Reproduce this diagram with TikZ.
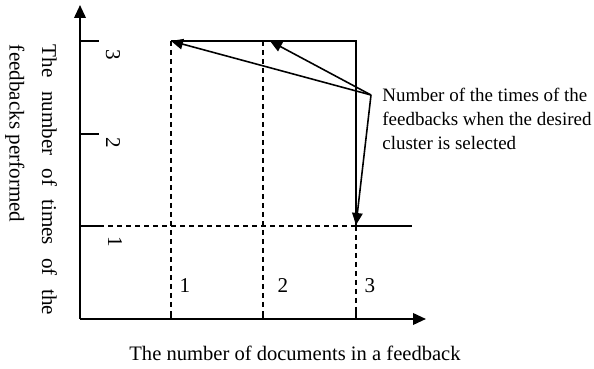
\documentclass[tikz,border=0pt]{standalone}
\usepackage{fontspec}
\setmainfont{Liberation Serif}
\usetikzlibrary{arrows.meta, calc}
\tikzset{
    axis/.style={
        -{Triangle[length=2.6mm, width=2.3mm]}, line width=1.2pt, draw=black
    },
    tickline/.style={line width=1.1pt, draw=black},
    grid/.style={line width=1pt, draw=black, dash pattern=on 1mm off 0.8mm},
    bound/.style={line width=1pt, draw=black},
    pointer/.style={
        -{Triangle[length=2.4mm, width=2.1mm]}, line width=0.9pt, draw=black
    },
    ticklab/.style={font=\fontsize{12}{14}\selectfont, inner sep=0pt},
    note/.style={font=\fontsize{10.8}{13.8}\selectfont, align=left, inner sep=0pt},
}

\begin{document}
\begin{tikzpicture}[x=0.2mm, y=-0.2mm]

% ============================================================
%  Frame (keeps the page at the reference proportions)
% ============================================================
\useasboundingbox (0,0) rectangle (594,369);

% ============================================================
%  Axes and ticks
% ============================================================
\coordinate (O)    at (80,319);
\coordinate (ytip) at (80,5);
\coordinate (xtip) at (426,319);

\draw[axis] (O) -- (ytip);
\draw[axis] (O) -- (xtip);

% y ticks at one, two and three feedbacks
\foreach \n/\y in {1/226, 2/134, 3/41} {
    \coordinate (y\n) at (80,\y);
    \coordinate (yt\n) at (99,\y);
    \draw[tickline] (y\n) -- (yt\n);
}
% x positions at one, two and three documents
\foreach \n/\x in {1/171, 2/263, 3/356} {
    \coordinate (x\n) at (\x,319);
    \coordinate (xt\n) at (\x,311);
    \coordinate (m\n) at (\x,226);
    \coordinate (t\n) at (\x,41);
    \draw[tickline] (x\n) -- (xt\n);
}

% tick labels
\node[ticklab, rotate=-90] (ylab3) at (113,55)  {3};
\node[ticklab, rotate=-90] (ylab2) at (113,143) {2};
\node[ticklab, rotate=-90] (ylab1) at (115,242) {1};
\node[ticklab] (xlab1) at (185,286) {1};
\node[ticklab] (xlab2) at (283,286) {2};
\node[ticklab] (xlab3) at (370,286) {3};

% ============================================================
%  Guide lines and the selected region
% ============================================================
\draw[grid] (yt1) -- (m3);
\draw[grid] (t1) -- (xt1);
\draw[grid] (t2) -- (xt2);
\draw[grid] (m3) -- (xt3);

\coordinate (mend) at (412,226);
\draw[bound] (t1) -- (t3) -- (m3) -- (mend);

% ============================================================
%  Pointers to the feedback counts
% ============================================================
\coordinate (src)  at (371,95);
\coordinate (hit2) at (270,41);
\coordinate (hit3) at (356,225);

\draw[pointer] (src) -- (t1);
\draw[pointer] (src) -- (hit2);
\draw[pointer] (src) -- (hit3);

\node[note, anchor=west] (desc) at (382,119) {%
    Number of the times of the\\
    feedbacks when the desired\\
    cluster is selected};

% ============================================================
%  Axis titles
% ============================================================
\node[font=\fontsize{11.7}{13}\selectfont, inner sep=0pt] (xtitle) at (295,353)
    {The number of documents in a feedback};

% first line spread over the full height, second line set flush
\node[font=\fontsize{12}{18.5}\selectfont, rotate=-90, align=left,
      inner sep=0pt] (ytitle) at (31,180)
    {\makebox[5.4cm][s]{The number of times of the}\\
     \makebox[5.4cm][l]{feedbacks performed}};

\end{tikzpicture}
\end{document}
